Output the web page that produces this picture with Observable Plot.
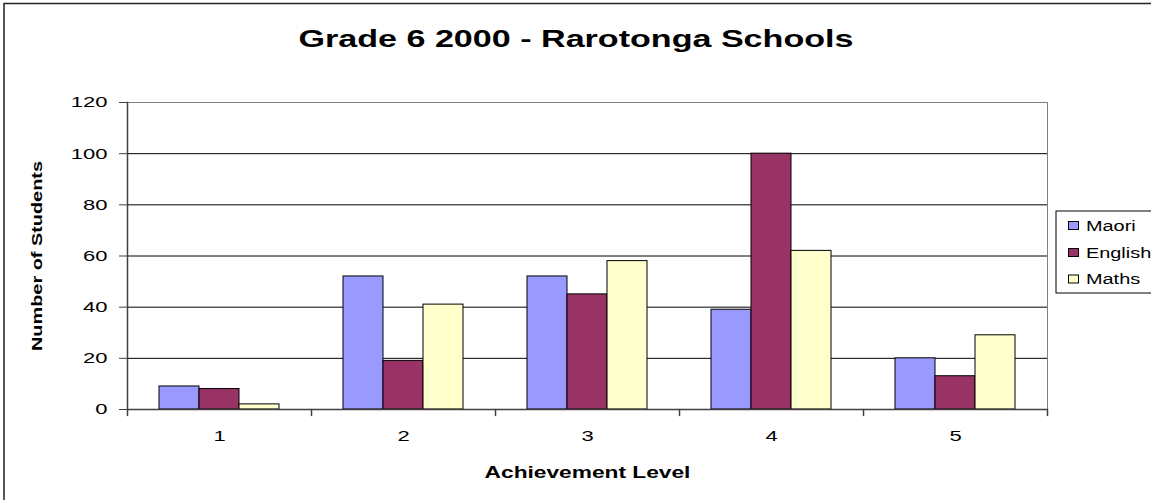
<!DOCTYPE html>
<html>
<head>
<meta charset="utf-8">
<script src="https://cdn.jsdelivr.net/npm/d3@7"></script>
<script src="https://cdn.jsdelivr.net/npm/@observablehq/plot@0.6"></script>
<style>
  html, body { margin: 0; padding: 0; background: #fff; overflow: hidden; }
  #wrap { position: relative; width: 1151px; height: 500px; }
  #wrap > svg { position: absolute; left: 0; top: 0; }
  g[aria-label="y-axis label"] text { font-weight: bold; font-size: 14px; }
  g[aria-label="fx-axis label"] text { font-weight: bold; font-size: 16px; }
</style>
</head>
<body>
<div id="wrap"></div>
<script>
// ---- data ----
const title = "Grade 6 2000 - Rarotonga Schools";
const levels = [1, 2, 3, 4, 5];
const subjects = ["Maori", "English", "Maths"];
const maori = [9, 52, 52, 39, 20];
const english = [8, 19, 45, 100, 13];
const maths = [2, 41, 58, 62, 29];
const yTicks = [0, 20, 40, 60, 80, 100, 120];
const colors = ["#9999FF", "#993366", "#FFFFCC"];
const xLabel = "Achievement Level";
const yLabel = "Number of Students";

const series = {Maori: maori, English: english, Maths: maths};
const data = levels.flatMap((lv, i) => subjects.map(s => ({level: lv, subject: s, value: series[s][i]})));

const FONT = "'Liberation Sans', Arial, sans-serif";
const STRETCH = 1.42;

const tickShape = {draw(ctx, l) { ctx.moveTo(0, 0); ctx.lineTo(0, -l); }};

const chart = Plot.plot({
  width: 1151,
  height: 500,
  marginLeft: 127,
  marginRight: 104,
  marginTop: 102,
  marginBottom: 91,
  style: {fontFamily: FONT, fontSize: "15.5px", color: "#000", background: "transparent"},
  fx: {domain: levels, padding: 0, label: xLabel},
  x: {domain: subjects, paddingInner: 0, paddingOuter: 0.752, axis: null},
  y: {domain: [0, 120], ticks: yTicks, label: yLabel},
  color: {domain: subjects, range: colors},
  marks: [
    Plot.gridY(yTicks.filter(t => t > 0 && t < 120), {stroke: "#000", strokeOpacity: 1, strokeWidth: 1}),
    Plot.ruleY([120], {stroke: "#808080", strokeWidth: 1}),
    Plot.frame({anchor: "right", facetAnchor: "right", stroke: "#808080", strokeWidth: 1}),
    Plot.barY(data, {fx: "level", x: "subject", y: "value", fill: "subject", stroke: "#000", strokeWidth: 1, inset: 0}),
    Plot.ruleY([0], {stroke: "#404040", strokeWidth: 1.5}),
    Plot.frame({anchor: "left", facetAnchor: "left", stroke: "#404040", strokeWidth: 1.5}),
    Plot.vector(levels, {fx: d => d, frameAnchor: "bottom-left", length: 6, rotate: 180, anchor: "start", shape: tickShape, stroke: "#404040", strokeWidth: 1.5}),
    Plot.vector([levels[levels.length - 1]], {fx: d => d, frameAnchor: "bottom-right", length: 6, rotate: 180, anchor: "start", shape: tickShape, stroke: "#404040", strokeWidth: 1.5}),
    Plot.axisY({ticks: yTicks, tickSize: 8, tickPadding: 12, stroke: "#404040", label: yLabel, labelAnchor: "center", labelOffset: 95, labelArrow: "none"}),
    Plot.axisFx({anchor: "bottom", tickSize: 0, tickPadding: 20, label: xLabel, labelAnchor: "center", labelOffset: 68, labelArrow: "none"})
  ]
});

const wrap = document.getElementById("wrap");
wrap.appendChild(chart);

// ---- overlay: title, legend, outer border ----
const ov = d3.create("svg").attr("width", 1151).attr("height", 500)
  .style("font-family", FONT);
ov.append("path").attr("d", "M4,600V3.5H1300").attr("fill", "none").attr("stroke", "#222").attr("stroke-width", 1.5);
ov.append("text").attr("x", 576).attr("y", 47).attr("text-anchor", "middle")
  .attr("font-size", 24).attr("font-weight", "bold").attr("fill", "#000").text(title);
const lg = ov.append("g");
lg.append("rect").attr("x", 1056).attr("y", 211).attr("width", 140).attr("height", 82)
  .attr("fill", "#fff").attr("stroke", "#000").attr("stroke-width", 1);
const rowY = [225.5, 252.5, 279];
subjects.forEach((s, i) => {
  lg.append("rect").attr("x", 1068.5).attr("y", rowY[i] - 4).attr("width", 10).attr("height", 8)
    .attr("fill", colors[i]).attr("stroke", "#000").attr("stroke-width", 1);
  lg.append("text").attr("x", 1086).attr("y", rowY[i] + 5).attr("font-size", 14).attr("fill", "#000").text(s);
});
wrap.appendChild(ov.node());

// Horizontal stretch of glyphs, as in the reference
wrap.querySelectorAll("text").forEach(t => {
  const len = t.getComputedTextLength();
  if (len > 0) {
    t.setAttribute("textLength", (len * STRETCH).toFixed(2));
    t.setAttribute("lengthAdjust", "spacingAndGlyphs");
  }
});
</script>
</body>
</html>
